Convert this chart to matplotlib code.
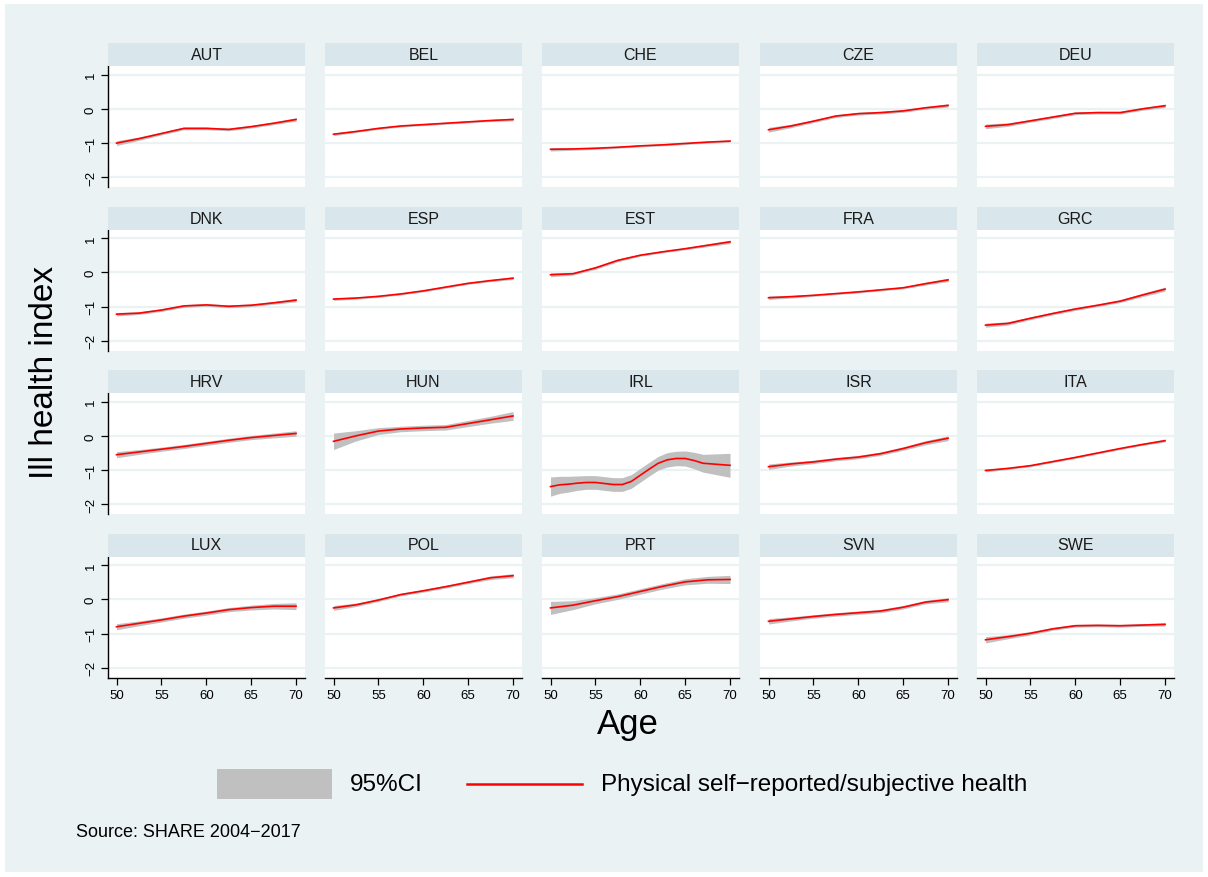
import numpy as np
import matplotlib
matplotlib.use("Agg")
import matplotlib.pyplot as plt
from matplotlib.patches import Rectangle
from matplotlib.lines import Line2D

plt.rcParams['font.family'] = ['Liberation Sans', 'DejaVu Sans']

# fitted ill-health index by age, per country (local polynomial fit)
ages = [50, 52.5, 55, 57.5, 60, 62.5, 65, 67.5, 70]
countries = ["AUT", "BEL", "CHE", "CZE", "DEU",
             "DNK", "ESP", "EST", "FRA", "GRC",
             "HRV", "HUN", "IRL", "ISR", "ITA",
             "LUX", "POL", "PRT", "SVN", "SWE"]

fit = {
    "AUT": [-1.00, -0.87, -0.72, -0.57, -0.57, -0.60, -0.52, -0.42, -0.31],
    "BEL": [-0.74, -0.66, -0.57, -0.50, -0.46, -0.42, -0.38, -0.34, -0.31],
    "CHE": [-1.18, -1.17, -1.15, -1.12, -1.08, -1.05, -1.01, -0.97, -0.94],
    "CZE": [-0.61, -0.50, -0.36, -0.21, -0.14, -0.11, -0.06, 0.03, 0.10],
    "DEU": [-0.51, -0.46, -0.35, -0.24, -0.13, -0.11, -0.11, 0.00, 0.09],
    "DNK": [-1.22, -1.19, -1.10, -0.98, -0.95, -0.99, -0.96, -0.89, -0.81],
    "ESP": [-0.78, -0.75, -0.70, -0.63, -0.54, -0.43, -0.32, -0.24, -0.17],
    "EST": [-0.07, -0.04, 0.13, 0.35, 0.50, 0.60, 0.69, 0.79, 0.89],
    "FRA": [-0.74, -0.71, -0.67, -0.62, -0.57, -0.51, -0.45, -0.33, -0.22],
    "GRC": [-1.54, -1.49, -1.34, -1.20, -1.07, -0.96, -0.84, -0.66, -0.49],
    "HRV": [-0.55, -0.47, -0.39, -0.31, -0.22, -0.13, -0.05, 0.01, 0.07],
    "HUN": [-0.16, 0.00, 0.14, 0.20, 0.23, 0.25, 0.36, 0.47, 0.58],
    "ISR": [-0.90, -0.82, -0.76, -0.68, -0.62, -0.52, -0.37, -0.20, -0.07],
    "ITA": [-1.01, -0.95, -0.87, -0.75, -0.63, -0.50, -0.37, -0.25, -0.14],
    "LUX": [-0.80, -0.70, -0.60, -0.49, -0.40, -0.30, -0.24, -0.20, -0.20],
    "POL": [-0.25, -0.16, -0.02, 0.14, 0.25, 0.37, 0.50, 0.63, 0.69],
    "PRT": [-0.25, -0.17, -0.04, 0.08, 0.23, 0.38, 0.51, 0.57, 0.58],
    "SVN": [-0.64, -0.57, -0.50, -0.44, -0.39, -0.34, -0.23, -0.08, -0.01],
    "SWE": [-1.18, -1.09, -0.99, -0.86, -0.77, -0.76, -0.77, -0.75, -0.73],
}

# half width of the 95% confidence band
half = {
    "AUT": [0.07, 0.05, 0.04, 0.04, 0.04, 0.04, 0.04, 0.04, 0.05],
    "BEL": [0.04, 0.03, 0.03, 0.03, 0.03, 0.03, 0.03, 0.03, 0.04],
    "CHE": [0.05, 0.04, 0.03, 0.03, 0.03, 0.03, 0.03, 0.03, 0.03],
    "CZE": [0.07, 0.05, 0.04, 0.04, 0.04, 0.04, 0.04, 0.04, 0.05],
    "DEU": [0.07, 0.05, 0.04, 0.04, 0.04, 0.04, 0.04, 0.04, 0.05],
    "DNK": [0.05, 0.04, 0.04, 0.04, 0.04, 0.04, 0.04, 0.04, 0.05],
    "ESP": [0.04, 0.03, 0.03, 0.03, 0.03, 0.03, 0.03, 0.03, 0.04],
    "EST": [0.06, 0.04, 0.04, 0.04, 0.03, 0.03, 0.03, 0.04, 0.05],
    "FRA": [0.05, 0.04, 0.03, 0.03, 0.03, 0.03, 0.03, 0.04, 0.05],
    "GRC": [0.06, 0.05, 0.04, 0.04, 0.04, 0.04, 0.04, 0.05, 0.06],
    "HRV": [0.09, 0.07, 0.06, 0.06, 0.06, 0.06, 0.06, 0.07, 0.08],
    "HUN": [0.24, 0.15, 0.10, 0.08, 0.08, 0.08, 0.09, 0.10, 0.13],
    "ISR": [0.08, 0.06, 0.05, 0.05, 0.05, 0.05, 0.05, 0.06, 0.07],
    "ITA": [0.04, 0.03, 0.03, 0.03, 0.03, 0.03, 0.03, 0.03, 0.04],
    "LUX": [0.09, 0.07, 0.06, 0.06, 0.06, 0.06, 0.07, 0.08, 0.10],
    "POL": [0.07, 0.05, 0.04, 0.04, 0.04, 0.04, 0.04, 0.05, 0.06],
    "PRT": [0.19, 0.13, 0.09, 0.08, 0.08, 0.08, 0.09, 0.10, 0.12],
    "SVN": [0.08, 0.06, 0.05, 0.05, 0.05, 0.05, 0.05, 0.05, 0.06],
    "SWE": [0.09, 0.06, 0.05, 0.04, 0.04, 0.04, 0.04, 0.04, 0.05],
}

# Ireland has a wavier fit, so it is read at every year of age
irl_ages = list(range(50, 71))
irl_fit = [-1.48, -1.43, -1.41, -1.38, -1.36, -1.36, -1.39, -1.42, -1.42,
           -1.33, -1.15, -0.97, -0.80, -0.70, -0.66, -0.66, -0.72, -0.80,
           -0.82, -0.84, -0.86]
irl_half = [0.28, 0.25, 0.23, 0.21, 0.20, 0.20, 0.20, 0.20, 0.20, 0.20,
            0.20, 0.20, 0.20, 0.21, 0.21, 0.22, 0.24, 0.26, 0.29, 0.32, 0.35]

xticks = [50, 55, 60, 65, 70]
yticks = [1, 0, -1, -2]

bg = "#eaf2f3"
strip = "#d9e6eb"
band = "#c0c0c0"

W, H = 1208, 878
fig = plt.figure(figsize=(W / 100, H / 100), dpi=100, facecolor="white")
fig.patches.append(Rectangle((5 / W, 5 / H), (W - 10) / W, (H - 10) / H,
                             transform=fig.transFigure, facecolor=bg,
                             edgecolor="none", zorder=-10))

col_left = [108, 325, 542, 760, 977]
row_top = [67, 230.5, 394, 557.5]
pw, ph, sh = 197, 121, 23

for i, c in enumerate(countries):
    r, k = divmod(i, 5)
    x0, y0 = col_left[k], row_top[r]
    ax = fig.add_axes([x0 / W, 1 - (y0 + ph) / H, pw / W, ph / H])
    ax.set_facecolor("white")
    # title strip above each panel
    fig.patches.append(Rectangle((x0 / W, 1 - y0 / H), pw / W, sh / H,
                                 transform=fig.transFigure, facecolor=strip,
                                 edgecolor="none"))
    fig.text((x0 + pw / 2) / W, 1 - (y0 - sh / 2) / H, c, ha="center",
             va="center", fontsize=11.5, color="#1a1a1a")

    if c == "IRL":
        xs, y, h = irl_ages, np.array(irl_fit), np.array(irl_half)
    else:
        xs, y, h = ages, np.array(fit[c]), np.array(half[c])
    ax.fill_between(xs, y - h, y + h, color=band, lw=0, zorder=2)
    ax.plot(xs, y, color="red", lw=1.2, zorder=3)

    ax.set_xlim(49.05, 71.0)
    ax.set_ylim(-2.28, 1.25)
    for t in yticks:
        ax.axhline(t, color=bg, lw=1.6, zorder=1)

    for s in ax.spines.values():
        s.set_visible(False)
    ax.set_yticks(yticks)
    ax.set_xticks(xticks)
    if k == 0:
        ax.spines["left"].set_visible(True)
        ax.spines["left"].set_linewidth(1.0)
        ax.set_yticklabels([f"{t:d}".replace("-", "\u2212") for t in yticks],
                           rotation=90, va="center", fontsize=9.5)
        ax.tick_params(axis="y", length=5, width=0.9, pad=3)
    else:
        ax.tick_params(axis="y", left=False, labelleft=False)
    if r == 3:
        ax.spines["bottom"].set_visible(True)
        ax.spines["bottom"].set_linewidth(1.0)
        ax.tick_params(axis="x", length=5, width=0.9, labelsize=9.5, pad=3)
    else:
        ax.tick_params(axis="x", bottom=False, labelbottom=False)

fig.text(45 / W, 1 - 372 / H, "Ill health index", rotation=90, ha="center",
         va="center", fontsize=24)
fig.text(628 / W, 1 - 725 / H, "Age", ha="center", va="center", fontsize=25)

# legend row
fig.patches.append(Rectangle((217 / W, 1 - 800 / H), 115 / W, 30 / H,
                             transform=fig.transFigure, facecolor=band,
                             edgecolor="none"))
fig.text(350 / W, 1 - 785 / H, "95%CI", ha="left", va="center", fontsize=17.5)
fig.lines.append(Line2D([467 / W, 582 / W], [1 - 785 / H, 1 - 785 / H],
                        transform=fig.transFigure, color="red", lw=1.8))
fig.text(601 / W, 1 - 785 / H, "Physical self\u2212reported/subjective health",
         ha="left", va="center", fontsize=17.5)

fig.text(76 / W, 1 - 833 / H, "Source: SHARE 2004\u22122017", ha="left",
         va="center", fontsize=13)

fig.savefig("out.png", dpi=100, facecolor="white")
